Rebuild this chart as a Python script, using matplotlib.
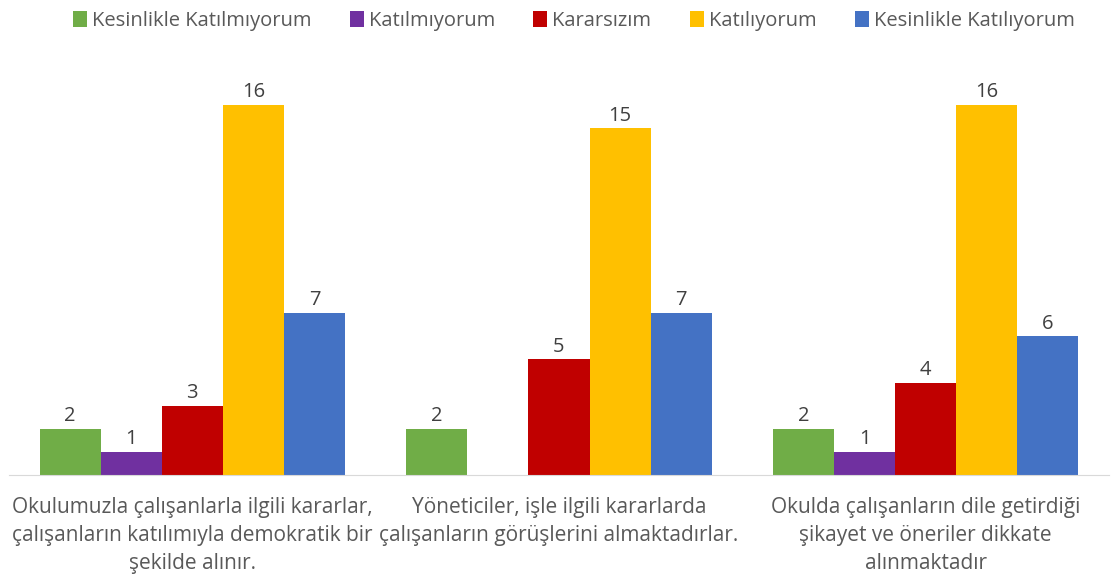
import matplotlib
matplotlib.use('Agg')
import matplotlib.pyplot as plt
import numpy as np

plt.rcParams['font.family'] = ['Open Sans', 'DejaVu Sans']

categories = ['Okulumuzla çalışanlarla ilgili kararlar,\nçalışanların katılımıyla demokratik bir\nşekilde alınır.',
              'Yöneticiler, işle ilgili kararlarda\nçalışanların görüşlerini almaktadırlar.',
              'Okulda çalışanların dile getirdiği\nşikayet ve öneriler dikkate\nalınmaktadır']
series = ['Kesinlikle Katılmıyorum', 'Katılmıyorum', 'Kararsızım', 'Katılıyorum', 'Kesinlikle Katılıyorum']
values = [
    [2, 2, 2],
    [1, 0, 1],
    [3, 5, 4],
    [16, 15, 16],
    [7, 7, 6],
]
colors = ['#70ad47', '#7030a0', '#c00000', '#ffc000', '#4472c4']

fig = plt.figure(figsize=(11.14, 5.81), dpi=100)
ax = fig.add_axes([9/1114, 106/581, 1100/1114, 416/581])

x = np.arange(len(categories))
w = 0.1666
for i, (name, vals, c) in enumerate(zip(series, values, colors)):
    pos = x + (i - 2) * w
    bars = ax.bar(pos, vals, w, color=c, label=name)
    for b, v in zip(bars, vals):
        if v > 0:
            ax.text(b.get_x() + b.get_width()/2, v + 0.12, str(v), ha='center', va='bottom',
                    fontsize=14.5, color='#404040')

ax.set_xlim(-0.5, 2.5)
ax.set_ylim(0, 18)
ax.set_xticks(x)
ax.set_xticklabels(categories, fontsize=15, color='#595959', linespacing=1.42)
ax.tick_params(axis='x', length=0, pad=16)
ax.set_yticks([])
for s in ['top', 'right', 'left']:
    ax.spines[s].set_visible(False)
ax.spines['bottom'].set_color('#d9d9d9')

fig.legend(loc='upper center', bbox_to_anchor=(0.515, 1.013), ncol=5, frameon=False,
           fontsize=14.5, labelcolor='#595959', handlelength=0.7, handleheight=0.9,
           handletextpad=0.25, columnspacing=1.9)

fig.savefig('out.png', dpi=100)
